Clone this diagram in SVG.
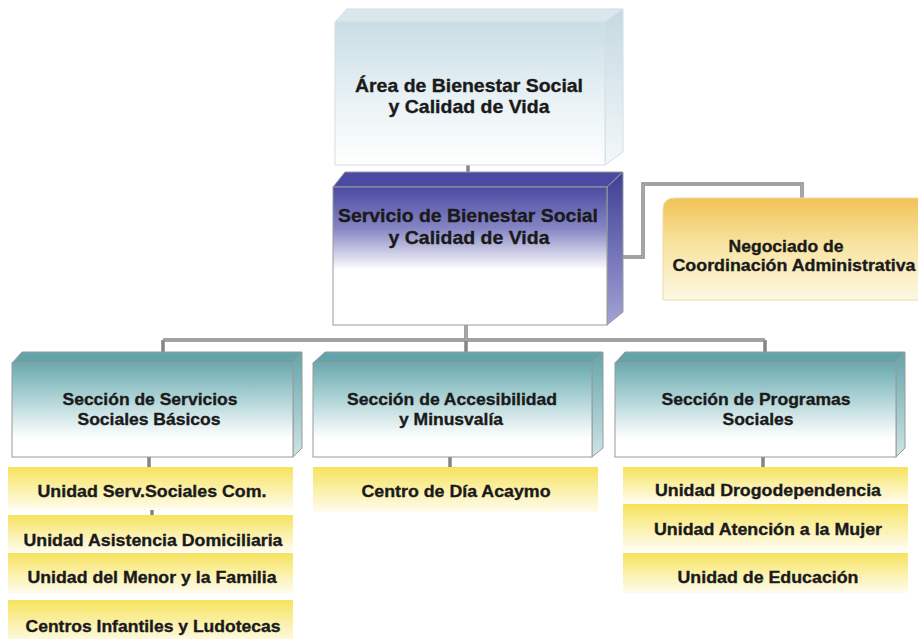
<svg xmlns="http://www.w3.org/2000/svg" width="918" height="639" viewBox="0 0 918 639">
<defs>
<linearGradient id="gTop" x1="0" y1="0" x2="0" y2="1">
<stop offset="0" stop-color="#c9dee6"/><stop offset="0.55" stop-color="#e9f2f5"/><stop offset="1" stop-color="#ffffff"/>
</linearGradient>
<linearGradient id="gTopSide" x1="0" y1="0" x2="0" y2="1">
<stop offset="0" stop-color="#c4d9e2"/><stop offset="1" stop-color="#f4f8fa"/>
</linearGradient>
<linearGradient id="gBlue" x1="0" y1="0" x2="0" y2="1">
<stop offset="0" stop-color="#4b4ba3"/><stop offset="0.3" stop-color="#8585c4"/><stop offset="0.6" stop-color="#ffffff"/><stop offset="1" stop-color="#ffffff"/>
</linearGradient>
<linearGradient id="gBlueSide" x1="0" y1="0" x2="0" y2="1">
<stop offset="0" stop-color="#3e3e96"/><stop offset="1" stop-color="#a3a3d6"/>
</linearGradient>
<linearGradient id="gTeal" x1="0" y1="0" x2="0" y2="1">
<stop offset="0" stop-color="#6aaaaf"/><stop offset="0.35" stop-color="#a9d0d3"/><stop offset="0.8" stop-color="#ffffff"/><stop offset="1" stop-color="#ffffff"/>
</linearGradient>
<linearGradient id="gTealSide" x1="0" y1="0" x2="0" y2="1">
<stop offset="0" stop-color="#62a5aa"/><stop offset="1" stop-color="#cfe5e7"/>
</linearGradient>
<linearGradient id="gOrange" x1="0" y1="0" x2="0" y2="1">
<stop offset="0" stop-color="#f1c256"/><stop offset="0.45" stop-color="#f8e3a0"/><stop offset="1" stop-color="#fdf8e4"/>
</linearGradient>
<linearGradient id="gYellow" x1="0" y1="0" x2="0" y2="1">
<stop offset="0" stop-color="#f6e35c"/><stop offset="0.5" stop-color="#fbf0a8"/><stop offset="1" stop-color="#fffcee"/>
</linearGradient>
</defs>
<style>
text{font-family:"Liberation Sans",Arial,sans-serif;font-weight:bold;fill:#1a1a1a;stroke:#1a1a1a;stroke-width:0.35;text-anchor:middle;}
.t18{font-size:19px;}
.t16{font-size:17px;}
.edge{stroke:#9a9a9a;stroke-width:1;}
.conn{fill:none;stroke:#858585;stroke-width:3.5;}
.connIn{fill:none;stroke:#bdbdbd;stroke-width:1.2;}
.yel{fill:url(#gYellow);}
</style>
<rect width="918" height="639" fill="#ffffff"/>

<g id="connectors">
<path class="conn" d="M468,163 V172 M607,257 H643 V184 H802 V198 M466,325 V352 M163,340 H765 M163,340 V352 M765,340 V352 M149,457 V467 M450,457 V467 M763,457 V467 M152,510 V515"/>
<path class="connIn" d="M607,257 H643 V184 H802 V198 M466,325 V340 M163,340 H765"/>
</g>

<g id="area">
<polygon points="335,22 347,9 623,9 605,22" fill="#dae8ee" stroke="#cfdde2" stroke-width="1"/>
<polygon points="605,22 623,9 623,152 605,165" fill="url(#gTopSide)" stroke="#d4e0e4" stroke-width="1"/>
<rect x="335" y="22" width="270" height="143" fill="url(#gTop)" stroke="#d4e0e4" stroke-width="1"/>
<text class="t18" x="469" y="92" textLength="228" lengthAdjust="spacingAndGlyphs">Área de Bienestar Social</text>
<text class="t18" x="469" y="113" textLength="161" lengthAdjust="spacingAndGlyphs">y Calidad de Vida</text>
</g>

<g id="servicio">
<polygon points="333,187 345,172 623,172 607,187" fill="#4a4aa2" class="edge"/>
<polygon points="607,187 623,172 623,312 607,325" fill="url(#gBlueSide)" class="edge"/>
<rect x="333" y="187" width="274" height="138" fill="url(#gBlue)" class="edge"/>
<text class="t18" x="468" y="222" textLength="260" lengthAdjust="spacingAndGlyphs">Servicio de Bienestar Social</text>
<text class="t18" x="469" y="244" textLength="161" lengthAdjust="spacingAndGlyphs">y Calidad de Vida</text>
</g>

<g id="negociado">
<path d="M663,300 V210 Q663,198 675,198 H920 V300 Z" fill="url(#gOrange)" stroke="#eadca8" stroke-width="1"/>
<text class="t16" x="786" y="252" textLength="115" lengthAdjust="spacingAndGlyphs">Negociado de</text>
<text class="t16" x="794" y="271" textLength="243" lengthAdjust="spacingAndGlyphs">Coordinación Administrativa</text>
</g>

<g id="sec-basicos">
<polygon points="12,363 22,352 302,352 293,363" fill="#62a4a9" class="edge"/>
<polygon points="293,363 302,352 302,448 293,457" fill="url(#gTealSide)" class="edge"/>
<rect x="12" y="363" width="281" height="94" fill="url(#gTeal)" class="edge"/>
<text class="t16" x="150" y="405" textLength="175" lengthAdjust="spacingAndGlyphs">Sección de Servicios</text>
<text class="t16" x="149" y="425" textLength="143" lengthAdjust="spacingAndGlyphs">Sociales Básicos</text>
</g>

<g id="sec-accesibilidad">
<polygon points="313,363 325,352 603,352 592,363" fill="#62a4a9" class="edge"/>
<polygon points="592,363 603,352 603,448 592,457" fill="url(#gTealSide)" class="edge"/>
<rect x="313" y="363" width="279" height="94" fill="url(#gTeal)" class="edge"/>
<text class="t16" x="452" y="405" textLength="210" lengthAdjust="spacingAndGlyphs">Sección de Accesibilidad</text>
<text class="t16" x="451" y="425" textLength="104" lengthAdjust="spacingAndGlyphs">y Minusvalía</text>
</g>

<g id="sec-programas">
<polygon points="615,363 625,352 905,352 896,363" fill="#62a4a9" class="edge"/>
<polygon points="896,363 905,352 905,448 896,457" fill="url(#gTealSide)" class="edge"/>
<rect x="615" y="363" width="281" height="94" fill="url(#gTeal)" class="edge"/>
<text class="t16" x="756" y="405" textLength="189" lengthAdjust="spacingAndGlyphs">Sección de Programas</text>
<text class="t16" x="758" y="425" textLength="71" lengthAdjust="spacingAndGlyphs">Sociales</text>
</g>

<g id="u-serv-sociales">
<rect class="yel" x="8" y="467" width="285" height="43"/>
<text class="t16" x="152" y="497" textLength="229" lengthAdjust="spacingAndGlyphs">Unidad Serv.Sociales Com.</text>
</g>
<g id="u-asistencia">
<rect class="yel" x="8" y="515" width="285" height="37"/>
<text class="t16" x="153" y="546" textLength="259" lengthAdjust="spacingAndGlyphs">Unidad Asistencia Domiciliaria</text>
</g>
<g id="u-menor">
<rect class="yel" x="8" y="553" width="285" height="40"/>
<text class="t16" x="152" y="583" textLength="249" lengthAdjust="spacingAndGlyphs">Unidad del Menor y la Familia</text>
</g>
<g id="u-centros">
<rect class="yel" x="8" y="600" width="285" height="45"/>
<text class="t16" x="153" y="632" textLength="255" lengthAdjust="spacingAndGlyphs">Centros Infantiles y Ludotecas</text>
</g>

<g id="u-acaymo">
<rect class="yel" x="313" y="467" width="285" height="45"/>
<text class="t16" x="456" y="497" textLength="189" lengthAdjust="spacingAndGlyphs">Centro de Día Acaymo</text>
</g>

<g id="u-drogo">
<rect class="yel" x="623" y="467" width="285" height="36"/>
<text class="t16" x="768" y="496" textLength="226" lengthAdjust="spacingAndGlyphs">Unidad Drogodependencia</text>
</g>
<g id="u-mujer">
<rect class="yel" x="623" y="504" width="285" height="46"/>
<text class="t16" x="768" y="535" textLength="228" lengthAdjust="spacingAndGlyphs">Unidad Atención a la Mujer</text>
</g>
<g id="u-educacion">
<rect class="yel" x="623" y="553" width="285" height="40"/>
<text class="t16" x="768" y="583" textLength="181" lengthAdjust="spacingAndGlyphs">Unidad de Educación</text>
</g>
</svg>
